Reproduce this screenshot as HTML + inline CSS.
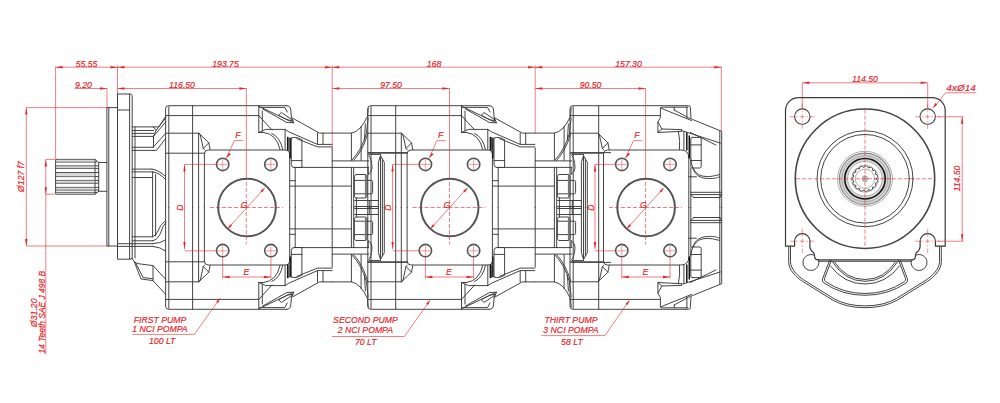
<!DOCTYPE html>
<html><head><meta charset="utf-8"><title>Pump drawing</title><style>
html,body{margin:0;padding:0;background:#fff}
svg{display:block}
.k path,.k circle{fill:none;stroke:#3a3a3a;stroke-width:.95;stroke-linecap:round;stroke-linejoin:round}
.k .k2{stroke-width:1.5;stroke:#111}
.k .fl{stroke-width:1.2;stroke:#3a3a3a}
.k .k3{stroke-width:1.8;stroke:#777}
.k .h{stroke:#555;stroke-width:1.6}
.k .h2{stroke:#444;stroke-width:1.1}
.k .big{stroke:#555;stroke-width:2}
.k .c2{stroke:#444;stroke-width:1.6}
.k .c3{stroke:#111;stroke-width:1.6}
.k .g{stroke:#999;stroke-width:.8}
.k .gr{stroke:#d8d8d8;stroke-width:2.6}
.k .gr2{stroke:#d4d4d4;stroke-width:5.2}
.k .g2{stroke:#888;stroke-width:1.1}
.k .sp{stroke:#2a2a2a;stroke-width:.9}
.r path{fill:none;stroke:#e5262b;stroke-width:.6}
.r .af{fill:#e5262b;stroke:none}
.r .dd{stroke-dasharray:4.2 1.8;stroke-width:.6}
.r .dc{stroke-dasharray:7 2 1.6 2;stroke-width:.55}
.r .dd2{stroke-dasharray:4.5 2 1.5 2;stroke-width:.5}
.r .thin{stroke-width:.45}
.r text{fill:#e5262b;font-family:"Liberation Sans",sans-serif;font-style:italic;font-size:9.2px;stroke:#e5262b;stroke-width:.2px}
</style></head><body>
<svg width="1000" height="403" viewBox="0 0 1000 403">
<rect width="1000" height="403" fill="#fff"/>
<g class="k">
<path d="M56.6 159.4H95L98.7 162.5V191.3L95 194.2H56.6Q55.6 194.2 55.6 193.2V160.4Q55.6 159.4 56.6 159.4Z"/>
<path d="M55.80 162.00L96.50 162.00"/>
<path d="M55.80 165.90L98.50 165.90"/>
<path d="M55.80 168.40L98.50 168.40"/>
<path d="M55.80 172.60L98.50 172.60"/>
<path d="M55.80 176.60L98.50 176.60"/>
<path d="M55.80 180.40L98.50 180.40"/>
<path d="M55.80 183.20L98.50 183.20"/>
<path d="M55.80 187.40L98.50 187.40"/>
<path d="M55.80 190.00L98.50 190.00"/>
<path d="M55.80 192.40L96.50 192.40"/>
<path d="M95.00 159.40L95.00 194.20"/>
<rect x="56" y="159.6" width="39" height="2.4" fill="#bbb" stroke="none" opacity=".55"/>
<rect x="56" y="165.9" width="39" height="2.5" fill="#bbb" stroke="none" opacity=".55"/>
<rect x="56" y="173" width="39" height="3.6" fill="#bbb" stroke="none" opacity=".55"/>
<rect x="56" y="180.4" width="39" height="2.8" fill="#bbb" stroke="none" opacity=".55"/>
<rect x="56" y="187.4" width="39" height="2.6" fill="#bbb" stroke="none" opacity=".55"/>
<rect x="56" y="192.4" width="39" height="1.6" fill="#bbb" stroke="none" opacity=".55"/>
<path d="M98.70 162.50L106.90 162.50"/>
<path d="M98.70 191.30L106.90 191.30"/>
<path d="M117.5 107.6H106.9V246H117.5"/>
<path d="M108.80 107.60L108.80 246.00"/>
<path d="M117.5 94H130.5Q132.2 94 132.2 95.7V258.5"/>
<path d="M117.5 94V259.2H129.5L132.2 258.5"/>
<path d="M129.60 94.00L129.60 259.20"/>
<path d="M117.50 110.00L129.60 110.00"/>
<path d="M117.50 243.70L132.20 243.70"/>
<path d="M117.50 246.40L132.20 246.40"/>
<path d="M135.00 127.00L135.00 258.00"/>
<path d="M132.20 126.90L153.50 126.90"/>
<path d="M132.20 130.50L153.50 130.50"/>
<path d="M132.20 133.40L153.50 133.40"/>
<path d="M132.20 136.40L153.50 136.40"/>
<path d="M153.5 126.9L158.8 126.9L165.6 116.5"/>
<path d="M153.5 126.9L156 130.5L153.5 136.4"/>
<path d="M156 130.5L165.6 118"/>
<path d="M132.20 147.30L153.00 147.30"/>
<path d="M132.20 150.40L153.00 150.40"/>
<path d="M153 147.3L165.6 133.5"/>
<path d="M153 150.4L156.5 150.4L165.6 138.5"/>
<path d="M153.5 136.4V147.3"/>
<path d="M153.5 136.4L165.6 122"/>
<path d="M132.20 169.10L152.00 169.10"/>
<path d="M132.20 171.90L153.00 171.90"/>
<path d="M132.20 177.50L152.60 177.50"/>
<path d="M152 169.1Q158 169.5 165.6 176.5"/>
<path d="M153 171.9Q159 172.5 165.6 179.5"/>
<path d="M152.60 171.90L152.60 236.80"/>
<path d="M155.60 174.60L155.60 236.00"/>
<path d="M132.20 236.80L152.50 236.80"/>
<path d="M132.20 240.80L152.50 240.80"/>
<path d="M132.20 243.70L152.50 243.70"/>
<path d="M152.5 240.8Q158 240 161 232Q162.5 226 166 222.5"/>
<path d="M152.5 243.7Q160 243.5 165.6 240"/>
<path d="M152.5 236.8Q156 236 158 231Q160 225 164.5 221.5"/>
<path d="M132.20 246.40L153.00 246.40"/>
<path d="M153 246.4Q160 247 165.6 251"/>
<path d="M132.2 258.7L134.2 261.5L141 279L153 280.6L165.6 294.3"/>
<path d="M134.2 261.5Q136 263.5 139 263.8L153 265.6L165.6 279.2"/>
<path d="M135.5 262.5L143 277.5L153 278.8"/>
<path d="M153 265.6V280.6"/>
</g>
<g class="k">
<path d="M165.60 207.5V108.7Q165.60 105.7 168.60 105.7H286.40"/>
<path d="M168.80 106.70L168.80 207.50"/>
<path d="M165.60 115.60L258.80 115.60"/>
<path d="M192.60 105.70L192.60 207.50"/>
<path d="M165.60 133.2H198.80L208.80 142.8L210.10 149.6"/>
<path d="M198.80 133.2L200.30 135L203.30 148.5L208.80 142.8"/>
<path d="M203.30 148.5L204.80 150"/>
<path d="M165.60 153.20L204.40 153.20"/>
<path d="M204.40 207.5V154Q204.40 150 208.40 150H285.70Q289.70 150 289.70 154V207.5"/>
<path d="M198.60 133.20L198.60 207.50"/>
<circle cx="222.70" cy="164.40" r="6.20" class="h"/>
<circle cx="270.90" cy="164.40" r="6.20" class="h"/>
<path d="M286.40 105.7Q290.70 105.7 290.80 110L291.40 117.5L319.50 133.1H332.10"/>
<path d="M258.80 105.70L258.80 132.50"/>
<path d="M258.80 106.3L293.80 122.8L291.40 117.5"/>
<path d="M259.80 107.4H284.80L287.30 112"/>
<path d="M278.80 115L281.40 112.5L293.30 120.6L287.70 120Z"/>
<path d="M258.80 115.6L272.00 130"/>
<path d="M262.80 109L286.80 122.5L293.80 122.8"/>
<path d="M258.80 132.5L265.80 129.4H285.10"/>
<path d="M258.80 132.5H263.80"/>
<path d="M262.30 111V130.8"/>
<path d="M285.10 129.4L288.80 131.8L317.50 144.4H332.10"/>
<path d="M296.80 138.6L317.50 146.9H332.10"/>
<path d="M317.50 133.10L317.50 144.40"/>
<path d="M323.00 133.10L323.00 144.40"/>
<path d="M263.80 132.5Q276.80 134 280.10 149.8"/>
<path d="M271.80 133.5Q280.30 137 282.80 149.8"/>
<path d="M285.10 129.40L285.10 149.80"/>
<path d="M287.70 137.50L287.70 150.00" class="k2"/>
<path d="M290.20 138.50L290.20 158.00" class="k2"/>
<path d="M288.90 137.50L288.90 150.00"/>
<path d="M291.30 138V164.5Q291.30 167.5 294.30 167.5H301.90V140"/>
<path d="M291.30 160.60L301.90 160.60"/>
<path d="M291.30 138Q296.80 136 301.90 140"/>
<g transform="translate(0 415.0) scale(1 -1)">
<path d="M165.60 207.5V108.7Q165.60 105.7 168.60 105.7H286.40"/>
<path d="M168.80 106.70L168.80 207.50"/>
<path d="M165.60 115.60L258.80 115.60"/>
<path d="M192.60 105.70L192.60 207.50"/>
<path d="M165.60 133.2H198.80L208.80 142.8L210.10 149.6"/>
<path d="M198.80 133.2L200.30 135L203.30 148.5L208.80 142.8"/>
<path d="M203.30 148.5L204.80 150"/>
<path d="M165.60 153.20L204.40 153.20"/>
<path d="M204.40 207.5V154Q204.40 150 208.40 150H285.70Q289.70 150 289.70 154V207.5"/>
<path d="M198.60 133.20L198.60 207.50"/>
<circle cx="222.70" cy="164.40" r="6.20" class="h"/>
<circle cx="270.90" cy="164.40" r="6.20" class="h"/>
<path d="M286.40 105.7Q290.70 105.7 290.80 110L291.40 117.5L319.50 133.1H332.10"/>
<path d="M258.80 105.70L258.80 132.50"/>
<path d="M258.80 106.3L293.80 122.8L291.40 117.5"/>
<path d="M259.80 107.4H284.80L287.30 112"/>
<path d="M278.80 115L281.40 112.5L293.30 120.6L287.70 120Z"/>
<path d="M258.80 115.6L272.00 130"/>
<path d="M262.80 109L286.80 122.5L293.80 122.8"/>
<path d="M258.80 132.5L265.80 129.4H285.10"/>
<path d="M258.80 132.5H263.80"/>
<path d="M262.30 111V130.8"/>
<path d="M285.10 129.4L288.80 131.8L317.50 144.4H332.10"/>
<path d="M296.80 138.6L317.50 146.9H332.10"/>
<path d="M317.50 133.10L317.50 144.40"/>
<path d="M323.00 133.10L323.00 144.40"/>
<path d="M263.80 132.5Q276.80 134 280.10 149.8"/>
<path d="M271.80 133.5Q280.30 137 282.80 149.8"/>
<path d="M285.10 129.40L285.10 149.80"/>
<path d="M287.70 137.50L287.70 150.00" class="k2"/>
<path d="M290.20 138.50L290.20 158.00" class="k2"/>
<path d="M288.90 137.50L288.90 150.00"/>
<path d="M291.30 138V164.5Q291.30 167.5 294.30 167.5H301.90V140"/>
<path d="M291.30 160.60L301.90 160.60"/>
<path d="M291.30 138Q296.80 136 301.90 140"/>
</g>
<circle cx="247.00" cy="207.50" r="28.80" class="big"/>
</g>
<g class="k">
<path d="M367.80 207.5V108.7Q367.80 105.7 370.80 105.7H489.10"/>
<path d="M371.00 106.70L371.00 207.50"/>
<path d="M367.80 115.60L461.50 115.60"/>
<path d="M395.70 105.70L395.70 207.50"/>
<path d="M367.80 133.2H401.50L411.50 142.8L412.80 149.6"/>
<path d="M401.50 133.2L403.00 135L406.00 148.5L411.50 142.8"/>
<path d="M406.00 148.5L407.50 150"/>
<path d="M367.80 153.20L407.10 153.20"/>
<path d="M407.10 207.5V154Q407.10 150 411.10 150H488.40Q492.40 150 492.40 154V207.5"/>
<path d="M401.30 133.20L401.30 207.50"/>
<circle cx="425.40" cy="164.40" r="6.20" class="h"/>
<circle cx="473.60" cy="164.40" r="6.20" class="h"/>
<path d="M489.10 105.7Q493.40 105.7 493.50 110L494.10 117.5L522.20 133.1H534.80"/>
<path d="M461.50 105.70L461.50 132.50"/>
<path d="M461.50 106.3L496.50 122.8L494.10 117.5"/>
<path d="M462.50 107.4H487.50L490.00 112"/>
<path d="M481.50 115L484.10 112.5L496.00 120.6L490.40 120Z"/>
<path d="M461.50 115.6L474.70 130"/>
<path d="M465.50 109L489.50 122.5L496.50 122.8"/>
<path d="M461.50 132.5L468.50 129.4H487.80"/>
<path d="M461.50 132.5H466.50"/>
<path d="M465.00 111V130.8"/>
<path d="M487.80 129.4L491.50 131.8L520.20 144.4H534.80"/>
<path d="M499.50 138.6L520.20 146.9H534.80"/>
<path d="M520.20 133.10L520.20 144.40"/>
<path d="M525.70 133.10L525.70 144.40"/>
<path d="M466.50 132.5Q479.50 134 482.80 149.8"/>
<path d="M474.50 133.5Q483.00 137 485.50 149.8"/>
<path d="M487.80 129.40L487.80 149.80"/>
<path d="M490.40 137.50L490.40 150.00" class="k2"/>
<path d="M492.90 138.50L492.90 158.00" class="k2"/>
<path d="M491.60 137.50L491.60 150.00"/>
<path d="M494.00 138V164.5Q494.00 167.5 497.00 167.5H504.60V140"/>
<path d="M494.00 160.60L504.60 160.60"/>
<path d="M494.00 138Q499.50 136 504.60 140"/>
<g transform="translate(0 415.0) scale(1 -1)">
<path d="M367.80 207.5V108.7Q367.80 105.7 370.80 105.7H489.10"/>
<path d="M371.00 106.70L371.00 207.50"/>
<path d="M367.80 115.60L461.50 115.60"/>
<path d="M395.70 105.70L395.70 207.50"/>
<path d="M367.80 133.2H401.50L411.50 142.8L412.80 149.6"/>
<path d="M401.50 133.2L403.00 135L406.00 148.5L411.50 142.8"/>
<path d="M406.00 148.5L407.50 150"/>
<path d="M367.80 153.20L407.10 153.20"/>
<path d="M407.10 207.5V154Q407.10 150 411.10 150H488.40Q492.40 150 492.40 154V207.5"/>
<path d="M401.30 133.20L401.30 207.50"/>
<circle cx="425.40" cy="164.40" r="6.20" class="h"/>
<circle cx="473.60" cy="164.40" r="6.20" class="h"/>
<path d="M489.10 105.7Q493.40 105.7 493.50 110L494.10 117.5L522.20 133.1H534.80"/>
<path d="M461.50 105.70L461.50 132.50"/>
<path d="M461.50 106.3L496.50 122.8L494.10 117.5"/>
<path d="M462.50 107.4H487.50L490.00 112"/>
<path d="M481.50 115L484.10 112.5L496.00 120.6L490.40 120Z"/>
<path d="M461.50 115.6L474.70 130"/>
<path d="M465.50 109L489.50 122.5L496.50 122.8"/>
<path d="M461.50 132.5L468.50 129.4H487.80"/>
<path d="M461.50 132.5H466.50"/>
<path d="M465.00 111V130.8"/>
<path d="M487.80 129.4L491.50 131.8L520.20 144.4H534.80"/>
<path d="M499.50 138.6L520.20 146.9H534.80"/>
<path d="M520.20 133.10L520.20 144.40"/>
<path d="M525.70 133.10L525.70 144.40"/>
<path d="M466.50 132.5Q479.50 134 482.80 149.8"/>
<path d="M474.50 133.5Q483.00 137 485.50 149.8"/>
<path d="M487.80 129.40L487.80 149.80"/>
<path d="M490.40 137.50L490.40 150.00" class="k2"/>
<path d="M492.90 138.50L492.90 158.00" class="k2"/>
<path d="M491.60 137.50L491.60 150.00"/>
<path d="M494.00 138V164.5Q494.00 167.5 497.00 167.5H504.60V140"/>
<path d="M494.00 160.60L504.60 160.60"/>
<path d="M494.00 138Q499.50 136 504.60 140"/>
</g>
<circle cx="449.70" cy="207.50" r="28.80" class="big"/>
</g>
<g class="k">
<path d="M570.00 207.5V108.7Q570.00 105.7 573.00 105.7H685.50"/>
<path d="M573.20 106.70L573.20 207.50"/>
<path d="M570.00 115.60L660.40 115.60"/>
<path d="M598.70 105.70L598.70 207.50"/>
<path d="M570.00 133.2H597.90L607.90 142.8L609.20 149.6"/>
<path d="M597.90 133.2L599.40 135L602.40 148.5L607.90 142.8"/>
<path d="M602.40 148.5L603.90 150"/>
<path d="M570.00 153.20L603.50 153.20"/>
<path d="M603.50 207.5V154Q603.50 150 607.50 150H680.80Q688.80 150 688.80 158V207.5"/>
<circle cx="621.80" cy="164.40" r="6.20" class="h"/>
<circle cx="670.00" cy="164.40" r="6.20" class="h"/>
<g transform="translate(0 415.0) scale(1 -1)">
<path d="M570.00 207.5V108.7Q570.00 105.7 573.00 105.7H685.50"/>
<path d="M573.20 106.70L573.20 207.50"/>
<path d="M570.00 115.60L660.40 115.60"/>
<path d="M598.70 105.70L598.70 207.50"/>
<path d="M570.00 133.2H597.90L607.90 142.8L609.20 149.6"/>
<path d="M597.90 133.2L599.40 135L602.40 148.5L607.90 142.8"/>
<path d="M602.40 148.5L603.90 150"/>
<path d="M570.00 153.20L603.50 153.20"/>
<path d="M603.50 207.5V154Q603.50 150 607.50 150H680.80Q688.80 150 688.80 158V207.5"/>
<circle cx="621.80" cy="164.40" r="6.20" class="h"/>
<circle cx="670.00" cy="164.40" r="6.20" class="h"/>
</g>
<circle cx="646.10" cy="207.50" r="28.80" class="big"/>
</g>
<g class="k">
<path d="M685.50 105.7H688.40Q690.40 105.7 690.40 107.5L691.00 118.8L692.40 119.4L721.70 131.3V207.5"/>
<path d="M719.80 131.00L719.80 207.50"/>
<path d="M660.40 108V117.5L657.90 121.9V132.5L661.90 129L657.90 121.9"/>
<path d="M657.90 132.5L681.70 131.3"/>
<path d="M661.90 129L681.70 129.6"/>
<path d="M660.40 108L691.70 120.6"/>
<path d="M661.40 107.2H687.90"/>
<path d="M674.20 110L690.40 118.8"/>
<path d="M674.20 107.2V110"/>
<path d="M686.90 107.2V117.5"/>
<path d="M681.70 130.6L720.40 143.1"/>
<path d="M690.40 132.5L715.90 145"/>
<path d="M678.40 131.3Q680.40 140 679.40 149.8"/>
<path d="M683.90 131.50L683.90 149.80"/>
<path d="M686.80 133.00L686.80 150.00" class="k2"/>
<path d="M689.30 136.00L689.30 158.00" class="k2"/>
<path d="M692.30 137.4H699.70Q701.20 137.4 701.20 139V166.5Q701.20 168 699.70 168H692.30Q690.80 168 690.80 166.5V139Q690.80 137.4 692.30 137.4Z"/>
<path d="M690.80 144.90L701.20 144.90"/>
<path d="M690.80 160.50L701.20 160.50"/>
<path d="M690.80 159C691.40 168 695.90 175.5 703.90 176.3S713.90 175.6 719.80 174.6"/>
<path d="M692.90 168C694.90 175 699.90 178.2 707.90 178.5S715.90 177.8 719.80 176.8"/>
<path d="M688.80 176.80L696.40 176.80"/>
<path d="M690.80 168.00L690.80 207.50"/>
<path d="M690.80 192.30L721.60 192.30"/>
<path d="M690.80 194.60L721.60 194.60"/>
<path d="M693.80 197.50L719.80 197.50"/>
<path d="M690.80 194.60L693.80 197.50"/>
<path d="M721.60 194.60L719.80 197.50"/>
<g transform="translate(0 415.0) scale(1 -1)">
<path d="M685.50 105.7H688.40Q690.40 105.7 690.40 107.5L691.00 118.8L692.40 119.4L721.70 131.3V207.5"/>
<path d="M719.80 131.00L719.80 207.50"/>
<path d="M660.40 108V117.5L657.90 121.9V132.5L661.90 129L657.90 121.9"/>
<path d="M657.90 132.5L681.70 131.3"/>
<path d="M661.90 129L681.70 129.6"/>
<path d="M660.40 108L691.70 120.6"/>
<path d="M661.40 107.2H687.90"/>
<path d="M674.20 110L690.40 118.8"/>
<path d="M674.20 107.2V110"/>
<path d="M686.90 107.2V117.5"/>
<path d="M681.70 130.6L720.40 143.1"/>
<path d="M690.40 132.5L715.90 145"/>
<path d="M678.40 131.3Q680.40 140 679.40 149.8"/>
<path d="M683.90 131.50L683.90 149.80"/>
<path d="M686.80 133.00L686.80 150.00" class="k2"/>
<path d="M689.30 136.00L689.30 158.00" class="k2"/>
<path d="M692.30 137.4H699.70Q701.20 137.4 701.20 139V166.5Q701.20 168 699.70 168H692.30Q690.80 168 690.80 166.5V139Q690.80 137.4 692.30 137.4Z"/>
<path d="M690.80 144.90L701.20 144.90"/>
<path d="M690.80 160.50L701.20 160.50"/>
<path d="M690.80 159C691.40 168 695.90 175.5 703.90 176.3S713.90 175.6 719.80 174.6"/>
<path d="M692.90 168C694.90 175 699.90 178.2 707.90 178.5S715.90 177.8 719.80 176.8"/>
<path d="M688.80 176.80L696.40 176.80"/>
<path d="M690.80 168.00L690.80 207.50"/>
<path d="M690.80 192.30L721.60 192.30"/>
<path d="M690.80 194.60L721.60 194.60"/>
<path d="M693.80 197.50L719.80 197.50"/>
<path d="M690.80 194.60L693.80 197.50"/>
<path d="M721.60 194.60L719.80 197.50"/>
</g>
</g>
<g class="k">
<path d="M332.20 133.1H351.40Q360.70 131.5 367.50 116.3L368.20 108"/>
<path d="M332.20 148.00L332.20 207.50"/>
<path d="M351.40 133.10L351.40 160.40"/>
<path d="M361.10 126.50L361.10 160.40"/>
<path d="M351.60 160.4Q361.70 150 366.40 133.4L368.20 118"/>
<path d="M353.60 160.4Q363.20 150 367.80 133.4"/>
<path d="M365.40 124L364.40 140"/>
<path d="M294.20 167.40L368.70 167.40"/>
<path d="M332.20 160.90L368.70 160.90"/>
<path d="M290.20 186.10L351.40 186.10"/>
<path d="M295.20 167.50L295.20 207.50"/>
<path d="M290.20 180.70L295.20 180.70"/>
<path d="M351.40 167.50L351.40 207.50"/>
<path d="M353.70 167.50L353.70 207.50"/>
<path d="M354.60 176L355.70 174.5H365.70L367.00 176V196.5L365.70 198H355.70L354.60 196.5Z"/>
<path d="M354.60 180.40L367.00 180.40"/>
<path d="M354.60 193.80L367.00 193.80"/>
<path d="M367.00 180.4H371.40Q372.60 180.4 372.60 181.6V192.6Q372.60 193.8 371.40 193.8H367.00"/>
<path d="M365.80 175.50L365.80 197.00" class="k3"/>
<path d="M354.60 200.50L378.20 200.50"/>
<path d="M354.60 206.50L378.20 206.50"/>
<path d="M356.40 198.00L356.40 207.50"/>
<path d="M369.30 200.50L369.30 207.50"/>
<path d="M368.20 167.50L368.20 174.40"/>
<path d="M378.40 207.5V162.3L380.50 155.6L384.30 162.3V207.5"/>
<path d="M380.50 155.60L380.50 207.50"/>
<path d="M382.40 159.00L382.40 207.50"/>
<path d="M368.20 152.60L407.60 152.60"/>
<path d="M369.20 154.40L380.70 154.40"/>
<path d="M368.40 155Q371.70 158 372.00 168Q371.70 172.5 368.40 174.2"/>
<g transform="translate(0 415.0) scale(1 -1)">
<path d="M332.20 133.1H351.40Q360.70 131.5 367.50 116.3L368.20 108"/>
<path d="M332.20 148.00L332.20 207.50"/>
<path d="M351.40 133.10L351.40 160.40"/>
<path d="M361.10 126.50L361.10 160.40"/>
<path d="M351.60 160.4Q361.70 150 366.40 133.4L368.20 118"/>
<path d="M353.60 160.4Q363.20 150 367.80 133.4"/>
<path d="M365.40 124L364.40 140"/>
<path d="M294.20 167.40L368.70 167.40"/>
<path d="M332.20 160.90L368.70 160.90"/>
<path d="M290.20 186.10L351.40 186.10"/>
<path d="M295.20 167.50L295.20 207.50"/>
<path d="M290.20 180.70L295.20 180.70"/>
<path d="M351.40 167.50L351.40 207.50"/>
<path d="M353.70 167.50L353.70 207.50"/>
<path d="M354.60 176L355.70 174.5H365.70L367.00 176V196.5L365.70 198H355.70L354.60 196.5Z"/>
<path d="M354.60 180.40L367.00 180.40"/>
<path d="M354.60 193.80L367.00 193.80"/>
<path d="M367.00 180.4H371.40Q372.60 180.4 372.60 181.6V192.6Q372.60 193.8 371.40 193.8H367.00"/>
<path d="M365.80 175.50L365.80 197.00" class="k3"/>
<path d="M354.60 200.50L378.20 200.50"/>
<path d="M354.60 206.50L378.20 206.50"/>
<path d="M356.40 198.00L356.40 207.50"/>
<path d="M369.30 200.50L369.30 207.50"/>
<path d="M368.20 167.50L368.20 174.40"/>
<path d="M378.40 207.5V162.3L380.50 155.6L384.30 162.3V207.5"/>
<path d="M380.50 155.60L380.50 207.50"/>
<path d="M382.40 159.00L382.40 207.50"/>
<path d="M368.20 152.60L407.60 152.60"/>
<path d="M369.20 154.40L380.70 154.40"/>
<path d="M368.40 155Q371.70 158 372.00 168Q371.70 172.5 368.40 174.2"/>
</g>
</g>
<g class="k">
<path d="M535.20 133.1H554.40Q563.70 131.5 570.50 116.3L571.20 108"/>
<path d="M535.20 148.00L535.20 207.50"/>
<path d="M554.40 133.10L554.40 160.40"/>
<path d="M564.10 126.50L564.10 160.40"/>
<path d="M554.60 160.4Q564.70 150 569.40 133.4L571.20 118"/>
<path d="M556.60 160.4Q566.20 150 570.80 133.4"/>
<path d="M568.40 124L567.40 140"/>
<path d="M497.20 167.40L571.70 167.40"/>
<path d="M535.20 160.90L571.70 160.90"/>
<path d="M493.20 186.10L554.40 186.10"/>
<path d="M498.20 167.50L498.20 207.50"/>
<path d="M493.20 180.70L498.20 180.70"/>
<path d="M554.40 167.50L554.40 207.50"/>
<path d="M556.70 167.50L556.70 207.50"/>
<path d="M557.60 176L558.70 174.5H568.70L570.00 176V196.5L568.70 198H558.70L557.60 196.5Z"/>
<path d="M557.60 180.40L570.00 180.40"/>
<path d="M557.60 193.80L570.00 193.80"/>
<path d="M570.00 180.4H574.40Q575.60 180.4 575.60 181.6V192.6Q575.60 193.8 574.40 193.8H570.00"/>
<path d="M568.80 175.50L568.80 197.00" class="k3"/>
<path d="M557.60 200.50L581.20 200.50"/>
<path d="M557.60 206.50L581.20 206.50"/>
<path d="M559.40 198.00L559.40 207.50"/>
<path d="M572.30 200.50L572.30 207.50"/>
<path d="M571.20 167.50L571.20 174.40"/>
<path d="M581.40 207.5V162.3L583.50 155.6L587.30 162.3V207.5"/>
<path d="M583.50 155.60L583.50 207.50"/>
<path d="M585.40 159.00L585.40 207.50"/>
<path d="M571.20 152.60L610.60 152.60"/>
<path d="M572.20 154.40L583.70 154.40"/>
<path d="M571.40 155Q574.70 158 575.00 168Q574.70 172.5 571.40 174.2"/>
<g transform="translate(0 415.0) scale(1 -1)">
<path d="M535.20 133.1H554.40Q563.70 131.5 570.50 116.3L571.20 108"/>
<path d="M535.20 148.00L535.20 207.50"/>
<path d="M554.40 133.10L554.40 160.40"/>
<path d="M564.10 126.50L564.10 160.40"/>
<path d="M554.60 160.4Q564.70 150 569.40 133.4L571.20 118"/>
<path d="M556.60 160.4Q566.20 150 570.80 133.4"/>
<path d="M568.40 124L567.40 140"/>
<path d="M497.20 167.40L571.70 167.40"/>
<path d="M535.20 160.90L571.70 160.90"/>
<path d="M493.20 186.10L554.40 186.10"/>
<path d="M498.20 167.50L498.20 207.50"/>
<path d="M493.20 180.70L498.20 180.70"/>
<path d="M554.40 167.50L554.40 207.50"/>
<path d="M556.70 167.50L556.70 207.50"/>
<path d="M557.60 176L558.70 174.5H568.70L570.00 176V196.5L568.70 198H558.70L557.60 196.5Z"/>
<path d="M557.60 180.40L570.00 180.40"/>
<path d="M557.60 193.80L570.00 193.80"/>
<path d="M570.00 180.4H574.40Q575.60 180.4 575.60 181.6V192.6Q575.60 193.8 574.40 193.8H570.00"/>
<path d="M568.80 175.50L568.80 197.00" class="k3"/>
<path d="M557.60 200.50L581.20 200.50"/>
<path d="M557.60 206.50L581.20 206.50"/>
<path d="M559.40 198.00L559.40 207.50"/>
<path d="M572.30 200.50L572.30 207.50"/>
<path d="M571.20 167.50L571.20 174.40"/>
<path d="M581.40 207.5V162.3L583.50 155.6L587.30 162.3V207.5"/>
<path d="M583.50 155.60L583.50 207.50"/>
<path d="M585.40 159.00L585.40 207.50"/>
<path d="M571.20 152.60L610.60 152.60"/>
<path d="M572.20 154.40L583.70 154.40"/>
<path d="M571.40 155Q574.70 158 575.00 168Q574.70 172.5 571.40 174.2"/>
</g>
</g>
<g class="r">
<path d="M55.60 67.20L117.50 67.20"/>
<path d="M55.60 67.20L62.60 66.00L62.60 68.40Z" class="af"/>
<path d="M117.50 67.20L110.50 68.40L110.50 66.00Z" class="af"/>
<text transform="translate(86.50 66.80) scale(0.945 1)" text-anchor="middle">55.55</text>
<path d="M117.50 67.20L332.20 67.20"/>
<path d="M117.50 67.20L124.50 66.00L124.50 68.40Z" class="af"/>
<path d="M332.20 67.20L325.20 68.40L325.20 66.00Z" class="af"/>
<text transform="translate(225.50 66.80) scale(0.945 1)" text-anchor="middle">193.75</text>
<path d="M332.20 67.20L535.20 67.20"/>
<path d="M332.20 67.20L339.20 66.00L339.20 68.40Z" class="af"/>
<path d="M535.20 67.20L528.20 68.40L528.20 66.00Z" class="af"/>
<text transform="translate(434.00 66.80) scale(0.945 1)" text-anchor="middle">168</text>
<path d="M535.20 67.20L721.30 67.20"/>
<path d="M535.20 67.20L542.20 66.00L542.20 68.40Z" class="af"/>
<path d="M721.30 67.20L714.30 68.40L714.30 66.00Z" class="af"/>
<text transform="translate(628.50 66.80) scale(0.945 1)" text-anchor="middle">157.30</text>
<path d="M55.60 66.60L55.60 159.40"/>
<path d="M117.50 65.50L117.50 94.00"/>
<path d="M332.20 65.50L332.20 149.00"/>
<path d="M535.20 65.50L535.20 133.20"/>
<path d="M721.30 66.60L721.30 131.00"/>
<path d="M74.50 88.50L107.00 88.50"/>
<path d="M107.00 88.50L100.00 89.70L100.00 87.30Z" class="af"/>
<text transform="translate(83.50 88.10) scale(0.945 1)" text-anchor="middle">9.20</text>
<path d="M107.00 88.20L107.00 107.60"/>
<path d="M117.50 88.50L246.30 88.50"/>
<path d="M117.50 88.50L124.50 87.30L124.50 89.70Z" class="af"/>
<path d="M246.30 88.50L239.30 89.70L239.30 87.30Z" class="af"/>
<text transform="translate(182.00 88.10) scale(0.945 1)" text-anchor="middle">116.50</text>
<path d="M332.20 88.50L449.40 88.50"/>
<path d="M332.20 88.50L339.20 87.30L339.20 89.70Z" class="af"/>
<path d="M449.40 88.50L442.40 89.70L442.40 87.30Z" class="af"/>
<text transform="translate(391.00 88.10) scale(0.945 1)" text-anchor="middle">97.50</text>
<path d="M535.20 88.50L645.50 88.50"/>
<path d="M535.20 88.50L542.20 87.30L542.20 89.70Z" class="af"/>
<path d="M645.50 88.50L638.50 89.70L638.50 87.30Z" class="af"/>
<text transform="translate(590.50 88.10) scale(0.945 1)" text-anchor="middle">90.50</text>
<path d="M26.30 107.60L26.30 246.00"/>
<path d="M26.30 107.60L27.50 114.60L25.10 114.60Z" class="af"/>
<path d="M26.30 246.00L25.10 239.00L27.50 239.00Z" class="af"/>
<path d="M26.30 107.60L107.00 107.60"/>
<path d="M26.30 246.00L107.00 246.00"/>
<text transform="translate(24.20 176.50) rotate(-90) scale(0.945 1)" text-anchor="middle">Ø127 f7</text>
<path d="M45.80 159.40L45.80 354.30"/>
<path d="M45.80 159.40L47.00 166.40L44.60 166.40Z" class="af"/>
<path d="M45.80 194.20L44.60 187.20L47.00 187.20Z" class="af"/>
<path d="M45.80 159.40L55.60 159.40"/>
<path d="M45.80 194.20L55.60 194.20"/>
<text transform="translate(36.60 327.00) rotate(-90) scale(0.945 1)" text-anchor="start">Ø31.20</text>
<text transform="translate(44.70 353.60) rotate(-90) scale(0.945 1)" text-anchor="start" style="font-size:8.95px">14 Teeth SAE J 498 B</text>
</g>
<g class="r">
<path d="M246.30 88.20L246.30 176.00"/>
<path d="M246.30 176V244.5" class="dd"/>
<path d="M209.80 207.50H282.80" class="dd"/>
<path d="M217.70 164.40L227.70 164.40" class="thin"/>
<path d="M222.70 159.40L222.70 169.40" class="thin"/>
<path d="M217.70 250.80L227.70 250.80" class="thin"/>
<path d="M222.70 245.80L222.70 255.80" class="thin"/>
<path d="M265.90 164.40L275.90 164.40" class="thin"/>
<path d="M270.90 159.40L270.90 169.40" class="thin"/>
<path d="M265.90 250.80L275.90 250.80" class="thin"/>
<path d="M270.90 245.80L270.90 255.80" class="thin"/>
<path d="M184.50 164.40L184.50 249.30"/>
<path d="M184.50 164.40L185.70 171.40L183.30 171.40Z" class="af"/>
<path d="M184.50 249.10L183.30 242.10L185.70 242.10Z" class="af"/>
<path d="M184.50 164.40L216.70 164.40"/>
<path d="M184.50 250.80L216.70 250.80"/>
<text transform="translate(183.00 207.50) rotate(-90) scale(0.945 1)" text-anchor="middle">D</text>
<path d="M222.70 256.80L222.70 278.50"/>
<path d="M270.90 256.80L270.90 278.50"/>
<path d="M222.70 277.00L270.90 277.00"/>
<path d="M222.70 277.00L229.70 275.80L229.70 278.20Z" class="af"/>
<path d="M270.90 277.00L263.90 278.20L263.90 275.80Z" class="af"/>
<text transform="translate(246.30 275.40) scale(0.945 1)" text-anchor="middle">E</text>
<text transform="translate(237.90 137.60) scale(0.945 1)" text-anchor="middle">F</text>
<path d="M234.30 140.60L243.30 140.60"/>
<path d="M234.30 140.60L226.30 158.20"/>
<path d="M226.30 158.20L228.95 152.69L230.87 154.13Z" class="af"/>
<path d="M228.60 227.80L263.80 188.90"/>
<path d="M227.10 229.40L230.24 224.15L232.02 225.76Z" class="af"/>
<path d="M265.30 187.30L262.16 192.55L260.38 190.94Z" class="af"/>
<text transform="translate(244.20 208.10) scale(0.945 1)" text-anchor="middle">G</text>
<text transform="translate(160.00 322.70) scale(0.945 1)" text-anchor="middle">FIRST PUMP</text>
<text transform="translate(160.00 332.10) scale(0.945 1)" text-anchor="middle">1 NCI POMPA</text>
<text transform="translate(162.20 344.20) scale(0.945 1)" text-anchor="middle">100 LT</text>
<path d="M132.50 334.40L194.40 334.40"/>
<path d="M194.40 334.40L218.28 300.76"/>
<path d="M220.60 297.50L218.10 303.09L216.15 301.70Z" class="af"/>
</g>
<g class="r">
<path d="M449.50 88.20L449.50 176.00"/>
<path d="M449.50 176V244.5" class="dd"/>
<path d="M412.50 207.50H485.50" class="dd"/>
<path d="M420.40 164.40L430.40 164.40" class="thin"/>
<path d="M425.40 159.40L425.40 169.40" class="thin"/>
<path d="M420.40 250.80L430.40 250.80" class="thin"/>
<path d="M425.40 245.80L425.40 255.80" class="thin"/>
<path d="M468.60 164.40L478.60 164.40" class="thin"/>
<path d="M473.60 159.40L473.60 169.40" class="thin"/>
<path d="M468.60 250.80L478.60 250.80" class="thin"/>
<path d="M473.60 245.80L473.60 255.80" class="thin"/>
<path d="M392.60 164.40L392.60 249.30"/>
<path d="M392.60 164.40L393.80 171.40L391.40 171.40Z" class="af"/>
<path d="M392.60 249.10L391.40 242.10L393.80 242.10Z" class="af"/>
<path d="M392.60 164.40L419.40 164.40"/>
<path d="M392.60 250.80L419.40 250.80"/>
<text transform="translate(391.10 207.50) rotate(-90) scale(0.945 1)" text-anchor="middle">D</text>
<path d="M425.40 256.80L425.40 278.50"/>
<path d="M473.60 256.80L473.60 278.50"/>
<path d="M425.40 277.00L473.60 277.00"/>
<path d="M425.40 277.00L432.40 275.80L432.40 278.20Z" class="af"/>
<path d="M473.60 277.00L466.60 278.20L466.60 275.80Z" class="af"/>
<text transform="translate(449.00 275.40) scale(0.945 1)" text-anchor="middle">E</text>
<text transform="translate(440.60 137.60) scale(0.945 1)" text-anchor="middle">F</text>
<path d="M437.00 140.60L446.00 140.60"/>
<path d="M437.00 140.60L429.00 158.20"/>
<path d="M429.00 158.20L431.65 152.69L433.57 154.13Z" class="af"/>
<path d="M431.30 227.80L466.50 188.90"/>
<path d="M429.80 229.40L432.94 224.15L434.72 225.76Z" class="af"/>
<path d="M468.00 187.30L464.86 192.55L463.08 190.94Z" class="af"/>
<text transform="translate(446.90 208.10) scale(0.945 1)" text-anchor="middle">G</text>
<text transform="translate(365.40 323.20) scale(0.945 1)" text-anchor="middle">SECOND PUMP</text>
<text transform="translate(365.40 332.60) scale(0.945 1)" text-anchor="middle">2 NCI POMPA</text>
<text transform="translate(365.80 345.20) scale(0.945 1)" text-anchor="middle">70 LT</text>
<path d="M331.90 336.50L404.40 336.50"/>
<path d="M404.40 336.50L428.29 302.67"/>
<path d="M430.60 299.40L428.12 304.99L426.16 303.61Z" class="af"/>
</g>
<g class="r">
<path d="M645.60 88.20L645.60 176.00"/>
<path d="M645.60 176V244.5" class="dd"/>
<path d="M608.90 207.50H681.90" class="dd"/>
<path d="M616.80 164.40L626.80 164.40" class="thin"/>
<path d="M621.80 159.40L621.80 169.40" class="thin"/>
<path d="M616.80 250.80L626.80 250.80" class="thin"/>
<path d="M621.80 245.80L621.80 255.80" class="thin"/>
<path d="M665.00 164.40L675.00 164.40" class="thin"/>
<path d="M670.00 159.40L670.00 169.40" class="thin"/>
<path d="M665.00 250.80L675.00 250.80" class="thin"/>
<path d="M670.00 245.80L670.00 255.80" class="thin"/>
<path d="M595.00 164.40L595.00 249.30"/>
<path d="M595.00 164.40L596.20 171.40L593.80 171.40Z" class="af"/>
<path d="M595.00 249.10L593.80 242.10L596.20 242.10Z" class="af"/>
<path d="M595.00 164.40L615.80 164.40"/>
<path d="M595.00 250.80L615.80 250.80"/>
<text transform="translate(593.50 207.50) rotate(-90) scale(0.945 1)" text-anchor="middle">D</text>
<path d="M621.80 256.80L621.80 278.50"/>
<path d="M670.00 256.80L670.00 278.50"/>
<path d="M621.80 277.00L670.00 277.00"/>
<path d="M621.80 277.00L628.80 275.80L628.80 278.20Z" class="af"/>
<path d="M670.00 277.00L663.00 278.20L663.00 275.80Z" class="af"/>
<text transform="translate(645.40 275.40) scale(0.945 1)" text-anchor="middle">E</text>
<text transform="translate(637.00 137.60) scale(0.945 1)" text-anchor="middle">F</text>
<path d="M633.40 140.60L642.40 140.60"/>
<path d="M633.40 140.60L625.40 158.20"/>
<path d="M625.40 158.20L628.05 152.69L629.97 154.13Z" class="af"/>
<path d="M627.70 227.80L662.90 188.90"/>
<path d="M626.20 229.40L629.34 224.15L631.12 225.76Z" class="af"/>
<path d="M664.40 187.30L661.26 192.55L659.48 190.94Z" class="af"/>
<text transform="translate(643.30 208.10) scale(0.945 1)" text-anchor="middle">G</text>
<text transform="translate(571.00 322.80) scale(0.945 1)" text-anchor="middle">THIRT PUMP</text>
<text transform="translate(571.00 332.60) scale(0.945 1)" text-anchor="middle">3 NCI POMPA</text>
<text transform="translate(571.90 344.50) scale(0.945 1)" text-anchor="middle">58 LT</text>
<path d="M541.30 335.60L605.00 335.60"/>
<path d="M605.00 335.60L627.73 302.69"/>
<path d="M630.00 299.40L627.58 305.02L625.60 303.66Z" class="af"/>
</g>
<g class="k">
<path d="M785.5 245.8V110.6A13 13 0 0 1 798.5 97.6H932.2A13 13 0 0 1 945.2 110.6V245.8" class="fl"/>
<path d="M785.50 246.1H794.60V241.3A7.65 7.65 0 0 1 809.90 241.3V247Q810.30 250.5 813.90 253Q814.60 255 814.60 256.8Q814.80 259.8 817.60 259.8" class="fl"/>
<path d="M818.50 259.8A8 8 0 1 1 814.30 255.2"/>
<circle cx="802.30" cy="116.60" r="7.70" class="h2"/>
<path d="M945.20 246.1H935.40V241.3A7.65 7.65 0 0 0 920.10 241.3V247Q919.70 250.5 916.10 253Q915.40 255 915.40 256.8Q915.20 259.8 912.40 259.8" class="fl"/>
<path d="M911.50 259.8A8 8 0 1 0 915.70 255.2"/>
<circle cx="927.70" cy="116.60" r="7.70" class="h2"/>
<path d="M817.60 259.80L912.40 259.80" class="fl"/>
<path d="M819.00 261.30L911.00 261.30"/>
<circle cx="865.00" cy="178.75" r="69.70" class="c2"/>
<circle cx="865.00" cy="178.75" r="48.00"/>
<circle cx="865.00" cy="178.75" r="44.30"/>
<circle cx="865.00" cy="178.75" r="22.90" class="gr2"/>
<circle cx="865.00" cy="178.75" r="27.50" class="g"/>
<circle cx="865.00" cy="178.75" r="25.60" class="g2"/>
<circle cx="865.00" cy="178.75" r="23.00" class="g"/>
<circle cx="865.00" cy="178.75" r="18.70" class="gr"/>
<circle cx="865.00" cy="178.75" r="20.20" class="c3"/>
<circle cx="865.00" cy="178.75" r="17.30" class="g"/>
<path d="M876.30 178.75Q879.97 181.93 875.32 183.35Q877.38 187.74 872.56 187.15Q872.65 192.00 868.49 189.50Q866.60 193.97 863.82 189.99Q860.27 193.30 859.35 188.54Q854.76 190.12 855.86 185.39Q851.02 184.97 853.95 181.10Q849.70 178.75 853.95 176.40Q851.02 172.53 855.86 172.11Q854.76 167.38 859.35 168.96Q860.27 164.20 863.82 167.51Q866.60 163.53 868.49 168.00Q872.65 165.50 872.56 170.35Q877.38 169.76 875.32 174.15Q879.97 175.57 876.30 178.75Z" class="sp"/>
<circle cx="865.00" cy="178.75" r="13.50" class="g"/>
<circle cx="865.00" cy="178.75" r="9.70" class="g"/>
<circle cx="865.0" cy="178.75" r="2.9" style="fill:#c4c4c4;stroke:#999;stroke-width:.7"/>
<path d="M788.7 246.5V262C788.7 270 796 277 802.5 281.3L832.5 300Q846 307.7 865 307.7Q884 307.7 897.5 300L927.5 281.3C934 277 941.3 270 941.3 262V246.5"/>
<path d="M790.5 246.5V261.5C790.5 269 797.5 275.7 803.6 279.8L833.4 298.4Q846.5 305.9 865 305.9Q883.5 305.9 896.6 298.4L926.4 279.8C932.5 275.7 939.5 269 939.5 261.5V246.5"/>
<path d="M829.5 260.5L822.5 279Q821.8 281.5 824 283Q842 295.3 865 295.3Q888 295.3 906 283Q908.2 281.5 907.5 279L900.5 260.5"/>
<path d="M831.3 260.5L824.5 278.5Q824 280.5 825.6 281.6Q843 293.5 865 293.5Q887 293.5 904.4 281.6Q906 280.5 905.5 278.5L898.7 260.5"/>
<path d="M832.5 262Q845 281.3 865 281.3Q885 281.3 897.5 262"/>
<path d="M834.5 262Q846 279.5 865 279.5Q884 279.5 895.5 262"/>
<path d="M830.5 266Q844 284 865 284Q886 284 899.5 266"/>
</g>
<g class="r">
<path d="M865.0 109.5V247" class="dd"/>
<path d="M795.8 178.75H935" class="dd"/>
<path d="M789.8 116.75H814.8" class="dd2"/>
<path d="M802.3 104.25V129.75" class="dd2"/>
<path d="M789.8 241.2H814.8" class="dd2"/>
<path d="M802.3 228.7V254.2" class="dd2"/>
<path d="M915.2 116.75H940.2" class="dd2"/>
<path d="M927.7 104.25V129.75" class="dd2"/>
<path d="M915.2 241.2H940.2" class="dd2"/>
<path d="M927.7 228.7V254.2" class="dd2"/>
<path d="M802.30 82.80L927.70 82.80"/>
<path d="M802.30 82.80L809.30 81.60L809.30 84.00Z" class="af"/>
<path d="M927.70 82.80L920.70 84.00L920.70 81.60Z" class="af"/>
<text transform="translate(865.00 82.40) scale(0.945 1)" text-anchor="middle">114.50</text>
<path d="M802.30 82.80L802.30 109.00"/>
<path d="M927.70 82.80L927.70 109.00"/>
<text x="946.3" y="90.6" style="font-size:9.9px;letter-spacing:.1px">4xØ14</text>
<path d="M945.60 92.75L976.30 92.75"/>
<path d="M945.60 92.75L934.30 107.00"/>
<path d="M932.60 108.60L935.30 103.11L937.20 104.57Z" class="af"/>
<path d="M962.20 116.75L962.20 241.20"/>
<path d="M962.20 116.75L963.40 123.75L961.00 123.75Z" class="af"/>
<path d="M962.20 241.20L961.00 234.20L963.40 234.20Z" class="af"/>
<path d="M938.00 116.75L963.50 116.75"/>
<path d="M938.00 241.20L963.50 241.20"/>
<text transform="translate(960.30 178.50) rotate(-90) scale(0.945 1)" text-anchor="middle">114.50</text>
</g>
</svg>
</body></html>
